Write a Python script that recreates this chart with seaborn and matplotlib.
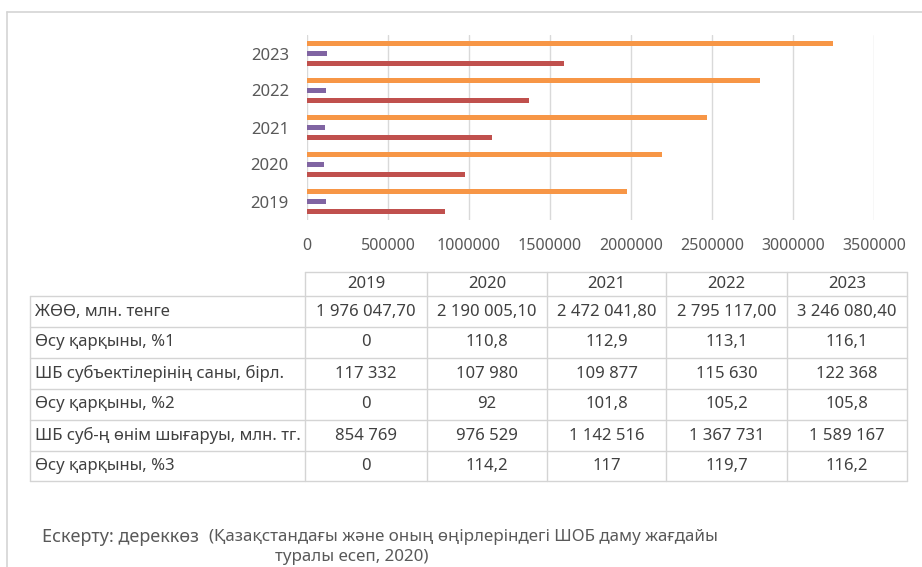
import pandas as pd
import numpy as np
import matplotlib
matplotlib.use('Agg')
import matplotlib.pyplot as plt
import seaborn as sns

# data
years = ['2019', '2020', '2021', '2022', '2023']
gdp = [1976047.70, 2190005.10, 2472041.80, 2795117.00, 3246080.40]
gdp_growth = [0, 110.8, 112.9, 113.1, 116.1]
sme_count = [117332, 107980, 109877, 115630, 122368]
count_growth = [0, 92, 101.8, 105.2, 105.8]
sme_output = [854769, 976529, 1142516, 1367731, 1589167]
output_growth = [0, 114.2, 117, 119.7, 116.2]

row_labels = ['ЖӨӨ, млн. тенге', 'Өсу қарқыны, %1', 'ШБ субъектілерінің саны, бірл.',
              'Өсу қарқыны, %2', 'ШБ суб-ң өнім шығаруы, млн. тг.', 'Өсу қарқыны, %3']
series_names = ['ЖӨӨ, млн. тенге', 'ШБ субъектілерінің саны, бірл.', 'ШБ суб-ң өнім шығаруы, млн. тг.']
colors = ['#F79646', '#8064A2', '#C0504D']
x_ticks = [0, 500000, 1000000, 1500000, 2000000, 2500000, 3000000, 3500000]

note_1 = 'Ескерту: дереккөз'
note_2 = '(Қазақстандағы және оның өңірлеріндегі ШОБ даму жағдайы'
note_3 = 'туралы есеп, 2020)'


def fmt_money(v):
    return f"{v:,.2f}".replace(',', ' ').replace('.', ',')


def fmt_int(v):
    return f"{v:,}".replace(',', ' ')


def fmt_pct(v):
    return ('%g' % v).replace('.', ',')


table_rows = [
    [fmt_money(v) for v in gdp],
    [fmt_pct(v) for v in gdp_growth],
    [fmt_int(v) for v in sme_count],
    [fmt_pct(v) for v in count_growth],
    [fmt_int(v) for v in sme_output],
    [fmt_pct(v) for v in output_growth],
]

df = pd.DataFrame({
    'year': years * 3,
    'value': gdp + sme_count + sme_output,
    'series': [series_names[0]] * 5 + [series_names[1]] * 5 + [series_names[2]] * 5,
})

sns.set_style('white')
plt.rcParams['font.family'] = ['Noto Sans', 'DejaVu Sans']

fig = plt.figure(figsize=(9.22, 5.67), dpi=100)
ax = fig.add_axes([307 / 922, 1 - 220 / 567, 567 / 922, 185 / 567])

sns.barplot(data=df, y='year', x='value', hue='series', order=years[::-1],
            hue_order=series_names, palette=colors, saturation=1, orient='h',
            width=0.8, gap=0.5, linewidth=0, legend=False, ax=ax)

ax.set_xlim(0, 3500000)
ax.set_xticks(x_ticks)
ax.set_xticklabels([str(t) for t in x_ticks])
ax.grid(axis='x', color='#D9D9D9', lw=1)
ax.set_axisbelow(True)
for s in ax.spines.values():
    s.set_visible(False)
ax.set_xlabel('')
ax.set_ylabel('')
ax.tick_params(axis='x', length=0, pad=13, labelsize=11.5, labelcolor='#595959')
ax.tick_params(axis='y', length=0, pad=13, labelsize=12, labelcolor='#595959')

# table + frame drawn in pixel coordinates
ov = fig.add_axes([0, 0, 1, 1])
ov.set_xlim(0, 922)
ov.set_ylim(567, 0)
ov.axis('off')
ov.patch.set_alpha(0)

line_c = '#D4D4D4'
ov.plot([7, 922], [12, 12], color=line_c, lw=1.2)
ov.plot([7, 7], [12, 567], color=line_c, lw=1.2)

col_edges = [305, 427, 547, 666, 787, 907]
row_edges = [272, 296, 327, 358, 389, 420, 451, 481]
label_left = 30

ov.plot([col_edges[0], col_edges[-1]], [row_edges[0], row_edges[0]], color=line_c, lw=1)
for y in row_edges[1:]:
    ov.plot([label_left, col_edges[-1]], [y, y], color=line_c, lw=1)
ov.plot([label_left, label_left], [row_edges[1], row_edges[-1]], color=line_c, lw=1)
for x in col_edges:
    ov.plot([x, x], [row_edges[0], row_edges[-1]], color=line_c, lw=1)

txt_c = '#404040'
for j, yr in enumerate(years):
    cx = (col_edges[j] + col_edges[j + 1]) / 2
    ov.text(cx, (row_edges[0] + row_edges[1]) / 2, yr, ha='center', va='center',
            fontsize=12, color=txt_c)

for i, lab in enumerate(row_labels):
    cy = (row_edges[i + 1] + row_edges[i + 2]) / 2
    ov.text(label_left + 5, cy, lab, ha='left', va='center', fontsize=12, color=txt_c)
    for j, val in enumerate(table_rows[i]):
        cx = (col_edges[j] + col_edges[j + 1]) / 2
        ov.text(cx, cy, val, ha='center', va='center', fontsize=12, color=txt_c)

ov.text(42, 537, note_1, ha='left', va='center', fontsize=13, color='#595959')
ov.text(209, 537, note_2, ha='left', va='center', fontsize=12.2, color='#595959')
ov.text(275, 557, note_3, ha='left', va='center', fontsize=12.2, color='#595959')

fig.savefig('out.png', dpi=100)
